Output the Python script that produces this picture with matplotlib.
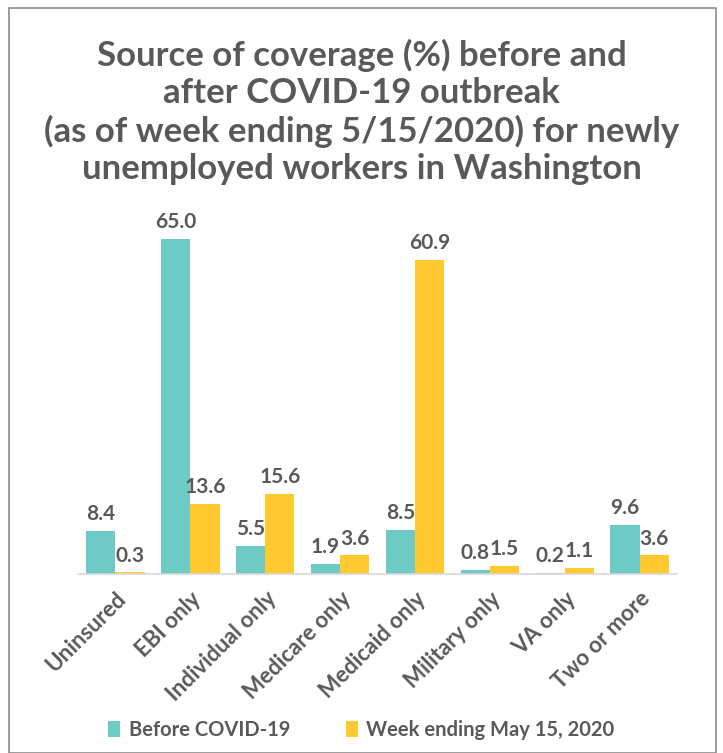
import matplotlib
matplotlib.use("Agg")
import matplotlib.pyplot as plt
import numpy as np
from matplotlib.patches import Rectangle

categories = ["Uninsured", "EBI only", "Individual only", "Medicare only",
              "Medicaid only", "Military only", "VA only", "Two or more"]
before = [8.4, 65.0, 5.5, 1.9, 8.5, 0.8, 0.2, 9.6]
after = [0.3, 13.6, 15.6, 3.6, 60.9, 1.5, 1.1, 3.6]
series_names = ["Before COVID-19", "Week ending May 15, 2020"]

TEAL = "#6ECAC5"
YELLOW = "#FFCA2F"
GRAY = "#595959"

plt.rcParams['font.family'] = ['Lato', 'DejaVu Sans']

fig = plt.figure(figsize=(7.23, 7.53), dpi=100)
fig.patches.append(Rectangle((9/723, 0), (716-9)/723, 1 - 8/753, transform=fig.transFigure,
                             fill=False, edgecolor="#8c8c8c", linewidth=1.2))

W, H = 723, 753
left, right = 78, 677
base, top = 574, 574 - 70 * 5.15
ax = fig.add_axes([left / W, 1 - base / H, (right - left) / W, (base - top) / H])

x = np.arange(len(categories))
bw = 0.39
b1 = ax.bar(x - bw / 2, before, bw, color=TEAL, label=series_names[0])
b2 = ax.bar(x + bw / 2, after, bw, color=YELLOW, label=series_names[1])

for bars, vals in ((b1, before), (b2, after)):
    for rect, v in zip(bars, vals):
        ax.annotate(f"{v:.1f}", (rect.get_x() + rect.get_width() / 2, v),
                    xytext=(0, 5), textcoords="offset points", ha="center", va="bottom",
                    fontsize=15, fontweight="bold", color=GRAY)

ax.set_xlim(-0.5, len(categories) - 0.5)
ax.set_ylim(0, 70)
ax.set_yticks([])
for s in ["top", "left", "right"]:
    ax.spines[s].set_visible(False)
ax.spines["bottom"].set_color("#d9d9d9")
ax.spines["bottom"].set_linewidth(1.2)
ax.set_xticks(x)
ax.set_xticklabels(categories, rotation=45, ha="right", rotation_mode="anchor",
                   fontsize=16, fontweight="bold", color=GRAY)
ax.tick_params(axis="x", length=0, pad=10)
ax.patch.set_visible(False)

fig.text(0.5, 1 - 112 / H,
         "Source of coverage (%) before and\nafter COVID-19 outbreak\n(as of week ending 5/15/2020) for newly\nunemployed workers in Washington",
         ha="center", va="center", fontsize=25, fontweight="bold", color=GRAY, linespacing=1.2)

leg = fig.legend(handles=[b1, b2], labels=series_names, loc="center", bbox_to_anchor=(0.5, 1 - 730 / H),
                 ncol=2, frameon=False, fontsize=14.5, handlelength=0.6, handleheight=0.9,
                 columnspacing=2.8, handletextpad=0.4)
for t in leg.get_texts():
    t.set_color(GRAY)
    t.set_fontweight("bold")

fig.savefig("out.png", dpi=100)
